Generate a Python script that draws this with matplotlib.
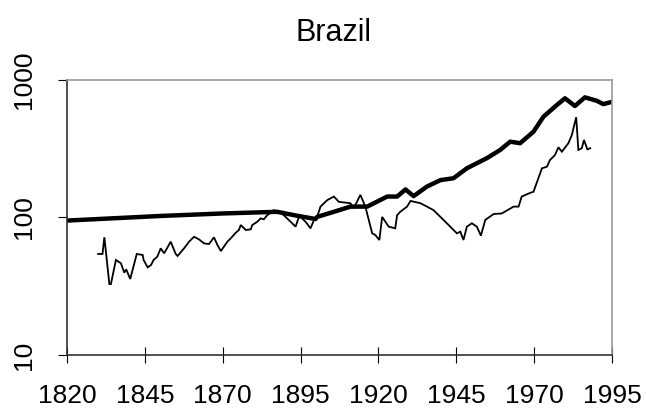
import matplotlib
matplotlib.use('Agg')
import matplotlib.pyplot as plt
from matplotlib.ticker import FixedLocator, NullLocator

plt.rcParams['font.family'] = ['Liberation Sans', 'DejaVu Sans']

title = 'Brazil'

# thick series
years_a = [1820, 1850, 1870, 1887.5, 1892.9, 1899.8, 1900.3, 1905.7, 1911, 1916.4,
           1922.8, 1926, 1928.7, 1931.3, 1935.6, 1939.9, 1944.1, 1948.4, 1954.8,
           1959.1, 1962.3, 1965.5, 1969.8, 1973, 1977.3, 1979.9, 1983.1, 1986.3,
           1990.1, 1992.2, 1994.4]
vals_a = [95, 102.6, 107, 110, 104, 97.5, 101, 110, 120, 120,
          142, 142, 160, 143, 168, 187, 193, 228, 270,
          310, 356, 347, 421, 541, 658, 736, 647, 748,
          706, 668, 688]

# thin series
years_b = [1830, 1831.4, 1832, 1833.6, 1834.1, 1835.7, 1837.3, 1838.4, 1839, 1840.3,
           1842.4, 1844.3, 1844.6, 1845.9, 1847, 1847.8, 1849, 1850.1, 1851.2, 1853.3,
           1854.9, 1855.5, 1857.6, 1859.2, 1860.8, 1862.4, 1864, 1865.6, 1867.2, 1868.3,
           1869.4, 1871.5, 1872.6, 1874.2, 1875.2, 1875.8, 1877.4, 1879, 1879.5, 1881.1,
           1882.2, 1883.2, 1884.3, 1886.4, 1888, 1889.6, 1891.2, 1893.4, 1894.4, 1895,
           1896.6, 1898.2, 1899.3, 1900.3, 1901.4, 1903.6, 1905.7, 1907.3, 1911, 1912.1,
           1914.2, 1915.8, 1918, 1919, 1920.3, 1921.2, 1923.3, 1925.4, 1926, 1927,
           1929.2, 1930.3, 1933.5, 1935.6, 1937.7, 1940.9, 1945.2, 1946.3, 1947.3, 1948.4,
           1950, 1951.6, 1952.9, 1954.3, 1957, 1959.6, 1963.4, 1965, 1966, 1968.7,
           1969.8, 1972.5, 1974.1, 1975.1, 1976.7, 1977.8, 1978.9, 1981, 1982.1, 1983.5,
           1984.2, 1985.3, 1986, 1987.1, 1988]
vals_b = [54.3, 54.3, 71.8, 32.8, 32.8, 49.1, 46.5, 39.7, 42, 35.7,
          54.3, 53.4, 49.1, 43.4, 45.2, 49.1, 51.9, 59.7, 54.9, 66.7,
          54.3, 52.5, 59.7, 66.7, 72.4, 69.3, 64.8, 64.1, 71.8, 63.1,
          57, 66.7, 70.7, 77.5, 81.1, 88.2, 81.1, 82, 88.2, 93.1,
          98.6, 97, 104, 113, 110, 104, 96, 85.8, 100, 101,
          93.1, 83.4, 96, 101, 120, 134, 142, 130, 127, 117,
          146, 120, 76.7, 74.6, 68.6, 101, 85.8, 83.4, 104, 110,
          120, 132, 127, 120, 113, 96, 76.7, 78.9, 68.6, 85.8,
          90.8, 85.8, 73.8, 96, 106, 107, 120, 120, 142, 151,
          154, 228, 234, 262, 285, 324, 301, 347, 398, 536,
          310, 319, 366, 313, 319]

xticks = [1820, 1845, 1870, 1895, 1920, 1945, 1970, 1995]
yticks = [10, 100, 1000]

fig = plt.figure(figsize=(6.46, 4.12), dpi=100)
ax = fig.add_axes([67 / 646, 1 - 355 / 412, 545 / 646, 275 / 412])

ax.plot(years_b, vals_b, color='black', lw=1.3, solid_joinstyle='miter')
ax.plot(years_a, vals_a, color='black', lw=3.2)

ax.set_yscale('log')
ax.set_xlim(1820, 1995)
ax.set_ylim(10, 1000)
ax.xaxis.set_major_locator(FixedLocator(xticks))
ax.yaxis.set_major_locator(FixedLocator(yticks))
ax.yaxis.set_minor_locator(NullLocator())
ax.set_xticklabels([str(t) for t in xticks])
ax.set_yticklabels([str(t) for t in yticks], rotation=90, va='center')

ax.tick_params(axis='x', direction='inout', length=11.5, width=0.8, pad=15, labelsize=19)
ax.tick_params(axis='y', direction='out', length=6.5, width=0.8, pad=16, labelsize=19)

for s in ['left', 'bottom']:
    ax.spines[s].set_color('#333333')
    ax.spines[s].set_linewidth(1.2)
for s in ['top', 'right']:
    ax.spines[s].set_color('#999999')
    ax.spines[s].set_linewidth(1.2)

fig.text(333.5 / 646, 1 - 41 / 412, title, ha='center', va='baseline', fontsize=22)

fig.savefig('out.png', dpi=100)
